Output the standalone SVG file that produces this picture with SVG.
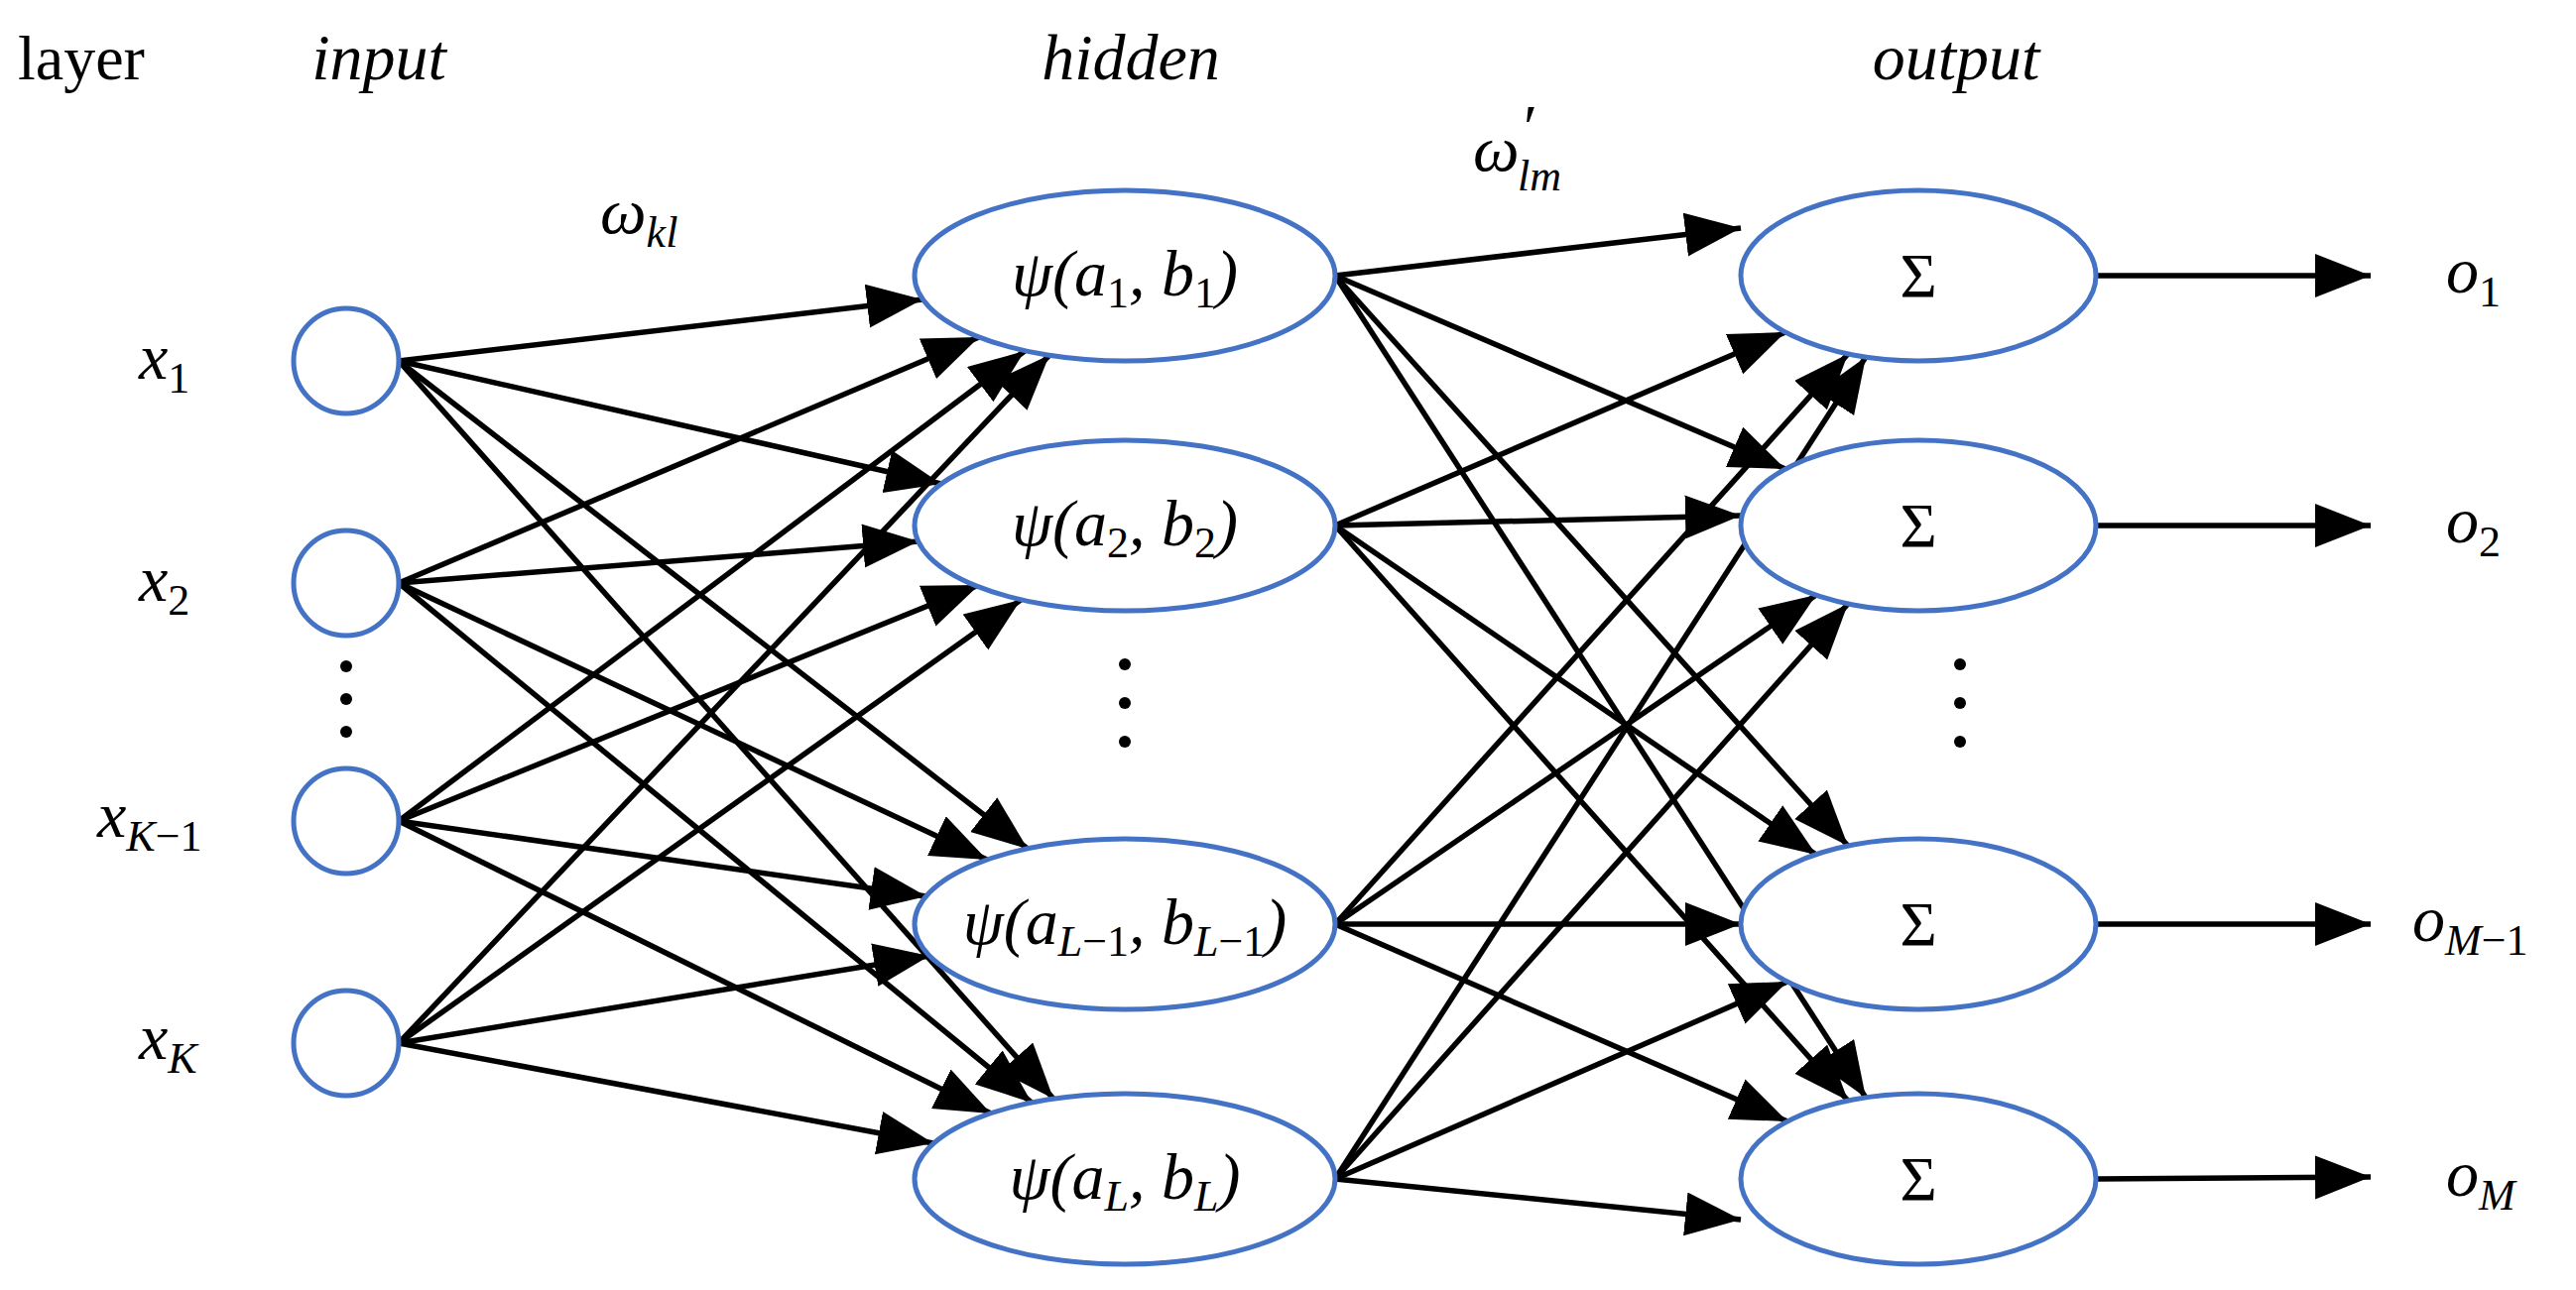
<svg xmlns="http://www.w3.org/2000/svg" width="2597" height="1301" viewBox="0 0 2597 1301">
<style>
.n{fill:#fff;stroke:#4472C4;stroke-width:5}
.e{stroke:#000;stroke-width:5.5;fill:none;marker-end:url(#a)}
.t{font-family:"Liberation Serif",serif;font-size:64px;fill:#000}
.m{font-family:"Liberation Serif",serif;font-style:italic;font-size:66px;fill:#000}
.s{font-size:44px;font-style:normal}
.si{font-size:44px}
</style>
<defs><marker id="a" markerUnits="userSpaceOnUse" markerWidth="60" markerHeight="50" refX="56" refY="22" orient="auto"><path d="M0,0 L56,22 L0,44 z" fill="#000"/></marker></defs>
<rect width="2597" height="1301" fill="#fff"/>
<text class="t" x="18" y="80">layer</text>
<text class="m" x="382" y="80" text-anchor="middle">input</text>
<text class="m" x="1140" y="80" text-anchor="middle">hidden</text>
<text class="m" x="1972" y="80" text-anchor="middle">output</text>
<text class="m" x="605" y="235">ω<tspan class="si" dy="14">kl</tspan></text>
<text class="m" x="1485" y="172">ω</text>
<text class="t" x="1536" y="150" font-size="40">′</text>
<text class="m" x="1530" y="192"><tspan class="si">lm</tspan></text>
<g id="labels-x">
<text class="m" x="140" y="382">x<tspan class="s" dy="14">1</tspan></text>
<text class="m" x="140" y="606">x<tspan class="s" dy="14">2</tspan></text>
<text class="m" x="98" y="844">x<tspan class="si" dy="14">K</tspan><tspan class="s">−1</tspan></text>
<text class="m" x="140" y="1068">x<tspan class="si" dy="14">K</tspan></text>
</g>
<g id="connectors">
<path class="e" d="M402,364 L930,302"/><path class="e" d="M402,364 L949,488"/><path class="e" d="M402,364 L1036,856"/><path class="e" d="M402,364 L1062,1108"/>
<path class="e" d="M402,588 L987,340"/><path class="e" d="M402,588 L926,546"/><path class="e" d="M402,588 L995,867"/><path class="e" d="M402,588 L1040,1112"/>
<path class="e" d="M402,828 L1033,354"/><path class="e" d="M402,828 L987,590"/><path class="e" d="M402,828 L934,904"/><path class="e" d="M402,828 L999,1123"/>
<path class="e" d="M402,1052 L1058,358"/><path class="e" d="M402,1052 L1029,605"/><path class="e" d="M402,1052 L937,964"/><path class="e" d="M402,1052 L941,1153"/>
<path class="e" d="M1346,278 L1755,230"/>
<path class="e" d="M1346,278 L1800,473"/><path class="e" d="M1346,278 L1863,853"/><path class="e" d="M1346,278 L1881,1107"/>
<path class="e" d="M1346,530 L1800,335"/><path class="e" d="M1346,530 L1755,520"/><path class="e" d="M1346,530 L1831,862"/><path class="e" d="M1346,530 L1863,1110"/>
<path class="e" d="M1346,932 L1863,357"/><path class="e" d="M1346,932 L1831,600"/><path class="e" d="M1346,932 L1755,932"/><path class="e" d="M1346,932 L1802,1131"/>
<path class="e" d="M1346,1189 L1881,360"/><path class="e" d="M1346,1189 L1863,609"/><path class="e" d="M1346,1189 L1802,990"/><path class="e" d="M1346,1189 L1755,1230"/>
<path class="e" d="M2113,278 L2390,278"/><path class="e" d="M2113,530 L2390,530"/><path class="e" d="M2113,932 L2390,932"/><path class="e" d="M2113,1189 L2390,1187"/>
</g>
<g id="input">
<circle class="n" cx="349" cy="364" r="53"/><circle class="n" cx="349" cy="588" r="53"/><circle class="n" cx="349" cy="828" r="53"/><circle class="n" cx="349" cy="1052" r="53"/>
<circle cx="349" cy="672" r="6"/><circle cx="349" cy="705" r="6"/><circle cx="349" cy="738" r="6"/>
</g>
<g id="hidden">
<ellipse class="n" cx="1134" cy="278" rx="212" ry="86"/><ellipse class="n" cx="1134" cy="530" rx="212" ry="86"/><ellipse class="n" cx="1134" cy="932" rx="212" ry="86"/><ellipse class="n" cx="1134" cy="1189" rx="212" ry="86"/>
<text class="m" x="1134" y="298" text-anchor="middle">ψ(a<tspan class="s" dy="12">1</tspan><tspan dy="-12">, b</tspan><tspan class="s" dy="12">1</tspan><tspan dy="-12">)</tspan></text>
<text class="m" x="1134" y="550" text-anchor="middle">ψ(a<tspan class="s" dy="12">2</tspan><tspan dy="-12">, b</tspan><tspan class="s" dy="12">2</tspan><tspan dy="-12">)</tspan></text>
<text class="m" x="1134" y="952" text-anchor="middle">ψ(a<tspan class="si" dy="12">L</tspan><tspan class="s">−1</tspan><tspan dy="-12">, b</tspan><tspan class="si" dy="12">L</tspan><tspan class="s">−1</tspan><tspan dy="-12">)</tspan></text>
<text class="m" x="1134" y="1209" text-anchor="middle">ψ(a<tspan class="si" dy="12">L</tspan><tspan dy="-12">, b</tspan><tspan class="si" dy="12">L</tspan><tspan dy="-12">)</tspan></text>
<circle cx="1134" cy="670" r="6"/><circle cx="1134" cy="709" r="6"/><circle cx="1134" cy="748" r="6"/>
</g>
<g id="output">
<ellipse class="n" cx="1934" cy="278" rx="179" ry="86"/><ellipse class="n" cx="1934" cy="530" rx="179" ry="86"/><ellipse class="n" cx="1934" cy="932" rx="179" ry="86"/><ellipse class="n" cx="1934" cy="1189" rx="179" ry="86"/>
<text class="t" x="1934" y="300" text-anchor="middle">Σ</text><text class="t" x="1934" y="552" text-anchor="middle">Σ</text><text class="t" x="1934" y="954" text-anchor="middle">Σ</text><text class="t" x="1934" y="1211" text-anchor="middle">Σ</text>
<circle cx="1976" cy="670" r="6"/><circle cx="1976" cy="709" r="6"/><circle cx="1976" cy="748" r="6"/>
<text class="m" x="2466" y="295">o<tspan class="s" dy="14">1</tspan></text>
<text class="m" x="2466" y="547">o<tspan class="s" dy="14">2</tspan></text>
<text class="m" x="2432" y="949">o<tspan class="si" dy="14">M</tspan><tspan class="s">−1</tspan></text>
<text class="m" x="2466" y="1206">o<tspan class="si" dy="14">M</tspan></text>
</g>
</svg>
